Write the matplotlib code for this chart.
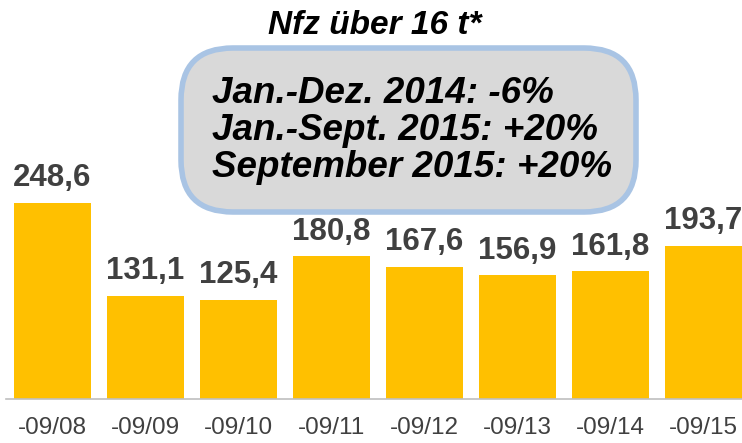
import matplotlib.pyplot as plt
from matplotlib.patches import FancyBboxPatch

plt.rcParams["font.family"] = ["Liberation Sans", "DejaVu Sans"]

periods = ["-09/08", "-09/09", "-09/10", "-09/11", "-09/12", "-09/13", "-09/14", "-09/15"]
values = [248.6, 131.1, 125.4, 180.8, 167.6, 156.9, 161.8, 193.7]
value_labels = ["248,6", "131,1", "125,4", "180,8", "167,6", "156,9", "161,8", "193,7"]
title = "Nfz über 16 t*"
box_lines = ["Jan.-Dez. 2014: -6%", "Jan.-Sept. 2015: +20%", "September 2015: +20%"]

fig = plt.figure(figsize=(7.42, 4.43), dpi=100)
ax = fig.add_axes([6 / 742, 44 / 443, 736 / 742, 399 / 443])

x = list(range(len(values)))
ax.bar(x, values, width=0.828, color="#FFC000", zorder=2)
for xi, v, lab in zip(x, values, value_labels):
    ax.annotate(lab, (xi, v), xytext=(0, 7), textcoords="offset points",
                ha="center", va="bottom", fontsize=22.5, fontweight="bold",
                color="#404040")

ax.set_xlim(-0.5, 7.414)
ax.set_ylim(0, 505.8)
ax.set_xticks(x)
ax.set_xticklabels(periods, fontsize=17.5, color="#404040")
ax.tick_params(axis="x", length=0, pad=13)
ax.set_yticks([])
for side in ["top", "left", "right"]:
    ax.spines[side].set_visible(False)
ax.spines["bottom"].set_color("#BFBFBF")
ax.spines["bottom"].set_linewidth(1.2)

fig.text(375 / 742, 1 - 25 / 443, title, ha="center", va="center",
         fontsize=24, fontweight="bold", fontstyle="italic", color="black")

box = FancyBboxPatch((181 / 742, 1 - 212 / 443), 455 / 742, 164 / 443,
                     boxstyle="round,pad=0,rounding_size=0.07",
                     transform=fig.transFigure, facecolor="#D9D9D9",
                     edgecolor="#A9C4E4", linewidth=4, zorder=3,
                     mutation_aspect=742 / 443)
fig.add_artist(box)

for i, line in enumerate(box_lines):
    fig.text(212 / 742, 1 - (103 + 37 * i) / 443, line, ha="left", va="baseline",
             fontsize=26.5, fontweight="bold", fontstyle="italic", color="black",
             zorder=4)

fig.savefig("out.png", dpi=100)
